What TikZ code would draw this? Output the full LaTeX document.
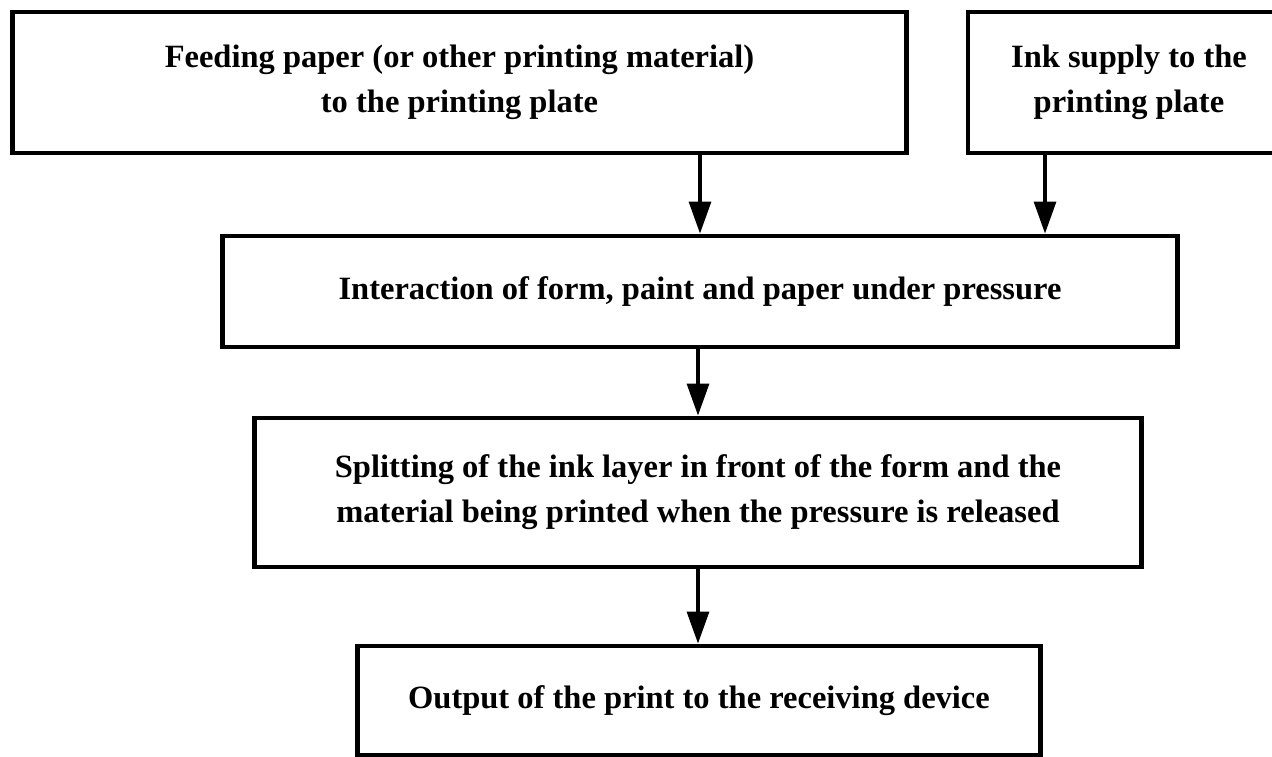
\documentclass[tikz,border=0pt]{standalone}
\usepackage{fontspec}
\setmainfont{Liberation Serif}
\usetikzlibrary{arrows.meta}

\begin{document}
\begin{tikzpicture}[x=0.02cm,y=-0.02cm,
    every node/.style={font=\fontsize{18.5}{25.6}\selectfont\bfseries,align=center},
    stage/.style={draw,line width=2.8pt,inner sep=0pt},
    flow/.style={-{Triangle[length=0.64cm,width=0.44cm]},line width=1.8pt}]
\useasboundingbox (0,0) rectangle (1272,757);
\node (feed) [stage,minimum width=17.9cm,minimum height=2.82cm] at (459.5,82.5)
    {Feeding paper (or other printing material)\\to the printing plate};
\node (ink) [stage,line width=2.2pt,minimum width=6.44cm,minimum height=2.82cm] at (1129,82.5)
    {Ink supply to the\\printing plate};
\node (press) [stage,minimum width=19.12cm,minimum height=2.22cm] at (700,291.5)
    {Interaction of form, paint and paper under pressure};
\node (split) [stage,minimum width=17.76cm,minimum height=2.98cm] at (698,492.5)
    {Splitting of the ink layer in front of the form and the\\material being printed when the pressure is released};
\node (out) [stage,minimum width=13.68cm,minimum height=2.18cm] at (699,700.5)
    {Output of the print to the receiving device};
\draw[flow] (feed.south -| press.north) -- (press.north);
\draw[flow] ([xshift=-1.68cm]ink.south) -- ([xshift=-1.68cm]ink.south |- press.north);
\draw[flow] (press.south -| split.north) -- (split.north);
\draw[flow] (split.south) -- (split.south |- out.north);
\end{tikzpicture}
\end{document}
